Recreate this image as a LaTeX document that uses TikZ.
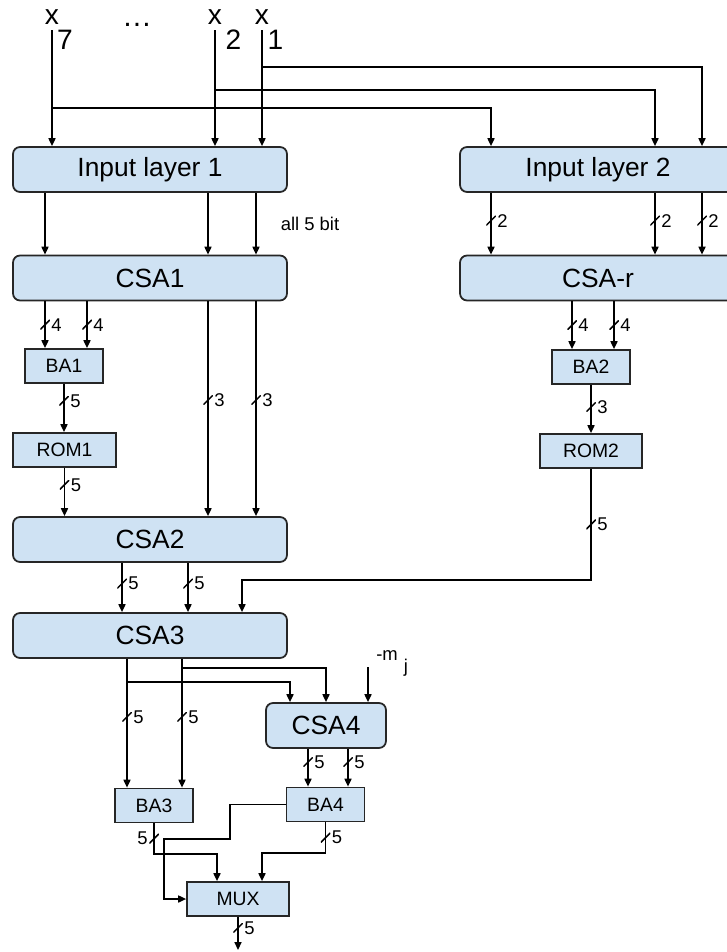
\documentclass[tikz,border=0pt]{standalone}
\usepackage{fontspec}
\setmainfont{Liberation Sans}
\usetikzlibrary{arrows.meta}
\definecolor{boxblue}{HTML}{CFE2F3}

\begin{document}
\begin{tikzpicture}[x=0.02cm,y=0.02cm,
  block/.style={draw=black!85,fill=boxblue,line width=1pt,rounded corners=4pt,
    minimum width=5.48cm,minimum height=0.9cm,font=\fontsize{15}{18}\selectfont},
  unit/.style={draw=black!85,fill=boxblue,line width=1pt,minimum height=0.68cm,
    font=\fontsize{11}{13}\selectfont},
  wire/.style={line width=0.85pt,-{Triangle[length=4.5pt,width=4pt]}},
  slash/.style={minimum size=0.19cm,inner sep=0pt,outer sep=0pt,label distance=2.5pt,
    path picture={\draw[-,line width=0.85pt] (path picture bounding box.south west)
      -- (path picture bounding box.north east);}},
  bus/.style={slash,label={[bits]right:#1}},
  busl/.style={slash,label={[bits]left:#1}},
  bits/.style={inner sep=0.5pt,font=\fontsize{10.5}{12}\selectfont},
  var/.style={font=\fontsize{16}{18}\selectfont,inner sep=3pt},
]
\useasboundingbox (0,0) rectangle (726,-952);

% blocks
\node[block] (in1) at (150,-169.5) {Input layer 1};
\node[block,minimum width=5.52cm] (in2) at (598,-169.5) {Input layer 2};
\node[block] (csa1) at (150,-278) {CSA1};
\node[block,minimum width=5.52cm] (csar) at (598,-278) {CSA-r};
\node[unit,minimum width=1.56cm] (ba1) at (64,-366) {BA1};
\node[unit,minimum width=2.06cm] (rom1) at (64.5,-450) {ROM1};
\node[unit,minimum width=1.56cm] (ba2) at (591,-367) {BA2};
\node[unit,minimum width=2.04cm] (rom2) at (591,-451) {ROM2};
\node[block] (csa2) at (150,-539.5) {CSA2};
\node[block] (csa3) at (150,-635.5) {CSA3};
\node[block,minimum width=2.4cm] (csa4) at (326,-725.5) {CSA4};
\node[unit,minimum width=1.56cm] (ba3) at (154,-805.5) {BA3};
\node[unit,minimum width=1.56cm] (ba4) at (325.5,-804.5) {BA4};
\node[unit,minimum width=2.04cm] (mux) at (238,-899) {MUX};

% inputs
\node[var] (x7) at (52,-17) {x};
\node[var] (x2) at (215,-17) {x};
\node[var] (x1) at (262,-17) {x};
\node[var,inner sep=0pt] (i7) at (65,-39.5) {7};
\node[var,inner sep=0pt] (i2) at (233.5,-39.5) {2};
\node[var,inner sep=0pt] (i1) at (275.5,-39.5) {1};
\node[font=\fontsize{17}{20}\selectfont,inner sep=0pt] (dots) at (137,-24.5) {…};

\draw[wire] (x7.south) -- (x7.south |- in1.north);
\draw[wire] (x2.south) -- (x2.south |- in1.north);
\draw[wire] (x1.south) -- (x1.south |- in1.north);
% same inputs again for the second layer
\draw[wire] (52,-108) -| (in2.north -| 491,0);
\draw[wire] (215,-90) -| (in2.north -| 655,0);
\draw[wire] (262,-67) -| (in2.north -| 702,0);

% left branch
\foreach \c in {45,208,256}
  \draw[wire] (in1.south -| \c,0) -- (csa1.north -| \c,0);
\node[bits] (allbits) at (310,-224) {all 5 bit};
\foreach \c in {45,87}
  \draw[wire] (csa1.south -| \c,0) -- node[bus=4]{} (ba1.north -| \c,0);
\foreach \c in {208,256}
  \draw[wire] (csa1.south -| \c,0) -- node[bus=3,pos=.46]{} (csa2.north -| \c,0);
\draw[wire] (ba1.south) -- node[bus=5,pos=.35]{} (ba1.south |- rom1.north);
\draw[wire] (rom1.south) -- node[bus=5,pos=.35]{} (rom1.south |- csa2.north);

% right branch
\foreach \c in {491,655,702}
  \draw[wire] (in2.south -| \c,0) -- node[bus=2,pos=.45]{} (csar.north -| \c,0);
\foreach \c in {572,614}
  \draw[wire] (csar.south -| \c,0) -- node[bus=4]{} (ba2.north -| \c,0);
\draw[wire] (ba2.south) -- node[bus=3,pos=.46]{} (rom2.north);
\draw[wire] (rom2.south) -- node[bus=5]{} (rom2.south |- 0,-580) -| (csa3.north -| 242,0);

% merge
\foreach \c in {122,188}
  \draw[wire] (csa2.south -| \c,0) -- node[bus=5,pos=.42]{} (csa3.north -| \c,0);
\foreach \c in {127,182}
  \draw[wire] (csa3.south -| \c,0) -- node[bus=5,pos=.45]{} (ba3.north -| \c,0);
\draw[wire] (127,-682) -| (csa4.north -| 290,0);
\draw[wire] (182,-668) -| (csa4.north);
\node[bits] (m) at (387,-656) {-m};
\node[bits] (j) at (406,-668) {j};
\draw[wire] (368,-667) -- (csa4.north -| 368,0);
\foreach \c in {308,348}
  \draw[wire] (csa4.south -| \c,0) -- node[bus=5,pos=.35]{} (ba4.north -| \c,0);

% select
\draw[wire] (ba3.south) -- node[busl=5]{} (ba3.south |- 0,-854) -| (mux.north -| 217,0);
\draw[wire] (ba4.south) -- node[bus=5]{} (ba4.south |- 0,-853) -| (mux.north -| 262,0);
\draw[wire] (ba4.west) -| (230,-839) -| (mux.west -| 164,0) -- (mux.west);
\draw[wire] (mux.south) -- node[bus=5,pos=.33]{} (mux.south |- 0,-950);
\end{tikzpicture}
\end{document}
